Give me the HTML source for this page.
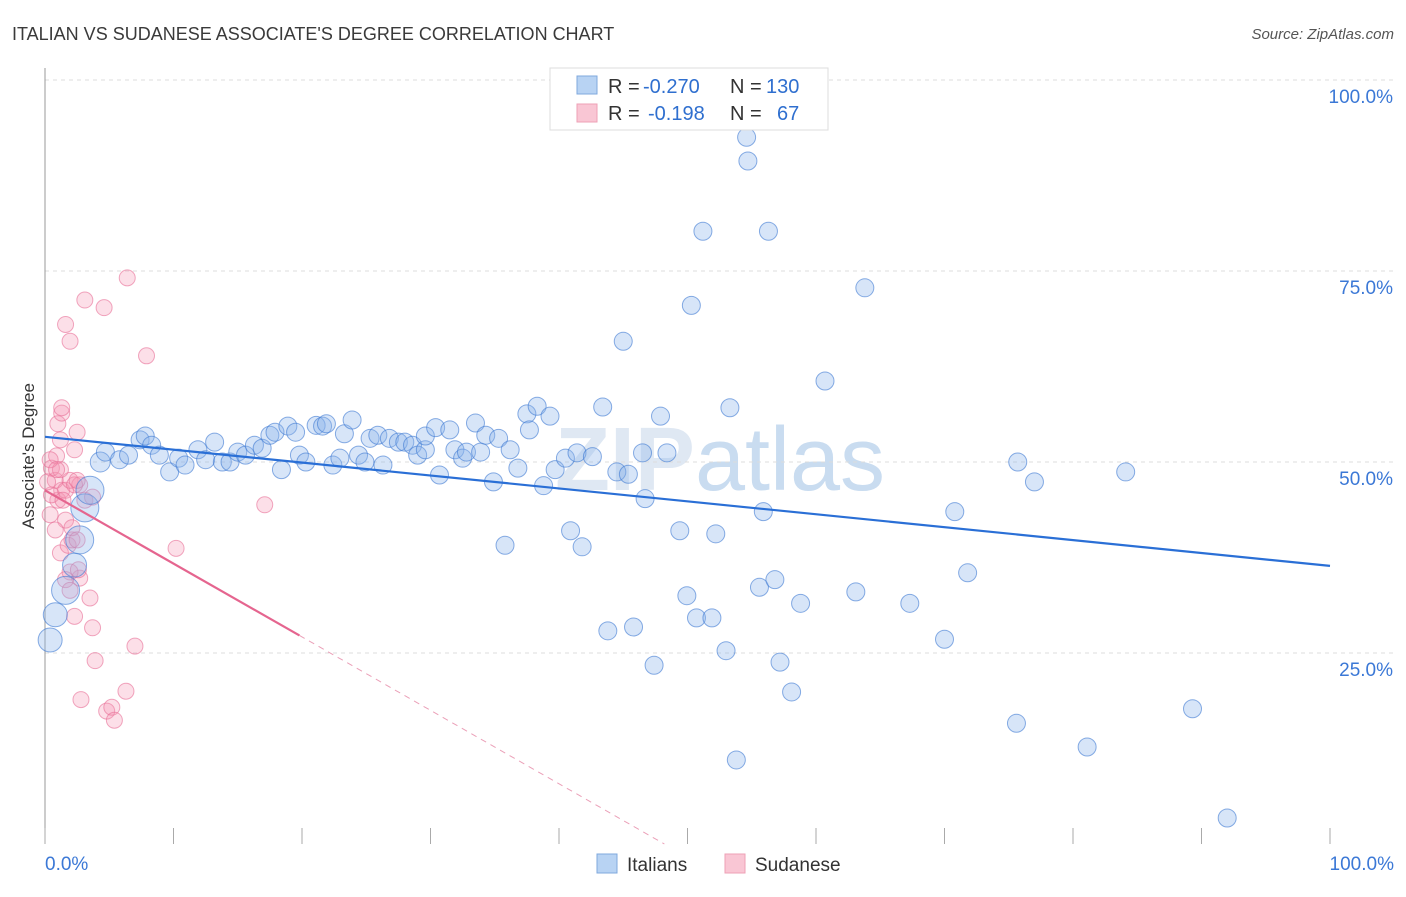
<!DOCTYPE html>
<html><head><meta charset="utf-8"><style>
body{margin:0;background:#fff;font-family:"Liberation Sans",sans-serif;}
svg text{font-family:"Liberation Sans",sans-serif;}
</style></head><body>
<svg id="c" width="1406" height="892" viewBox="0 0 1406 892" xmlns="http://www.w3.org/2000/svg">
<text x="12" y="40" font-size="18" fill="#3a3a3a">ITALIAN VS SUDANESE ASSOCIATE'S DEGREE CORRELATION CHART</text>
<text x="1394" y="39" font-size="15" fill="#555" text-anchor="end" font-style="italic">Source: ZipAtlas.com</text>
<text x="720" y="490" font-size="90" fill="#dfe8f3" text-anchor="middle" font-weight="bold">ZIP<tspan font-weight="normal" fill="#c9dcf0">atlas</tspan></text>
<g id="grid"></g>
<g id="axes"></g>
<g id="pts"></g>
<g id="trend"></g>
<text transform="translate(34,456) rotate(-90)" font-size="17" fill="#333" text-anchor="middle">Associate's Degree</text>
<g>
<rect x="550" y="68" width="278" height="62" fill="#fff" stroke="#ddd"/>
<rect x="577" y="76" width="20" height="18" fill="#b8d3f3" stroke="#7fa8de"/>
<rect x="577" y="104" width="20" height="18" fill="#f9c6d4" stroke="#eea0b6"/>
<text x="608" y="93" font-size="20" fill="#333">R =</text>
<text x="643" y="93" font-size="20" fill="#2f6fcf">-0.270</text>
<text x="730" y="93" font-size="20" fill="#333">N =</text>
<text x="766" y="93" font-size="20" fill="#2f6fcf">130</text>
<text x="608" y="120" font-size="20" fill="#333">R =</text>
<text x="648" y="120" font-size="20" fill="#2f6fcf">-0.198</text>
<text x="730" y="120" font-size="20" fill="#333">N =</text>
<text x="777" y="120" font-size="20" fill="#2f6fcf">67</text>
</g>
<g>
<rect x="597" y="854" width="20" height="19" fill="#b8d3f3" stroke="#7fa8de"/>
<text x="627" y="871" font-size="19" fill="#333">Italians</text>
<rect x="725" y="854" width="20" height="19" fill="#f9c6d4" stroke="#eea0b6"/>
<text x="755" y="871" font-size="19" fill="#333">Sudanese</text>
</g>
</svg>
<script>
const yTicks=[25,50,75,100];
const yTickLabels=["25.0%","50.0%","75.0%","100.0%"];
const xTicks=[0,10,20,30,40,50,60,70,80,90,100];
const blueX=[0.4,0.8,1.6,2.3,2.7,3.1,3.5,4.3,4.7,5.8,6.5,7.4,7.8,8.3,8.9,9.7,10.4,10.9,11.9,12.5,13.2,13.8,14.4,15,15.6,16.3,16.9,17.5,17.9,18.4,18.9,19.5,19.8,20.3,21.1,21.6,21.9,22.4,22.95,23.3,23.9,24.4,24.9,25.3,25.9,26.3,26.8,27.5,28,28.6,29,29.6,29.6,30.4,30.7,31.5,31.9,32.5,32.8,33.5,33.9,34.3,34.9,35.3,35.8,36.2,36.8,37.5,37.7,38.3,38.8,39.3,39.7,40.5,40.9,41.4,41.8,42.6,43.4,43.8,44.5,45,45.4,45.8,46.5,46.7,47.4,47.9,48.4,49.4,49.95,50.3,50.7,51.2,51.9,52.2,53,53.3,53.8,54.6,54.7,55.6,55.9,56.3,56.8,57.2,58.1,58.8,60.7,63.1,63.8,67.3,70,70.8,71.8,75.6,75.7,77,81.1,84.1,89.3,92];
const blueY=[26.7,30,33.2,36.5,39.8,44,46.3,50,51.3,50.3,50.9,52.9,53.4,52.2,50.9,48.7,50.5,49.6,51.6,50.3,52.6,50,50,51.3,50.9,52.2,51.8,53.5,53.9,49,54.7,53.9,50.9,50,54.8,54.7,55,49.6,50.5,53.7,55.5,50.9,50,53.1,53.5,49.6,53.1,52.6,52.6,52.2,50.9,51.6,53.4,54.5,48.3,54.2,51.6,50.5,51.3,55.1,51.3,53.5,47.4,53.1,39.1,51.6,49.2,56.3,54.2,57.3,46.9,56,49,50.5,41,51.2,38.9,50.7,57.2,27.9,48.7,65.8,48.4,28.4,51.2,45.2,23.4,56,51.2,41,32.5,70.5,29.6,80.2,29.6,40.6,25.3,57.1,11,92.5,89.4,33.6,43.5,80.2,34.6,23.8,19.9,31.5,60.6,33,72.8,31.5,26.8,43.5,35.5,15.8,50,47.4,12.7,48.7,17.7,3.4];
const blueBig=[12,12,14,12,14,14,14,10];
const pinkX=[6.4,3.1,4.6,1.6,1.95,7.9,17.1,10.2,7,3.9,6.3,2.8,4.8,5.2,5.4,3.5,3.7,2.3,2.7,1.95,2.6,1.2,1.8,2.1,1.6,1,1.3,0.8,0.5,0.9,1.2,1,1.3,1.3,2.3,2.5,0.5,0.4,0.8,2.1,2.5,1.6,0.2,1.95,2.7,3.1,1.2,0.4,2.3,3.7,1.6,1.95,2.5,1.4,0.9];
const pinkY=[74.1,71.2,70.2,68,65.8,63.9,44.4,38.7,25.9,24,20,18.9,17.4,17.9,16.2,32.2,28.3,29.8,34.8,35.6,35.9,38.1,39.1,39.8,42.4,45,46.3,47.6,49.2,50.8,52.9,55,56.4,57.1,51.6,53.9,45.7,43.1,41.1,41.4,39.8,46.3,47.4,47.6,47,45,49,50.3,47,45.4,34.6,33.2,47.6,45,49];
const blueTrend=[[0,53.3],[100,36.4]];
const pinkTrendSolid=[[0,46.3],[19.8,27.3]];
const pinkTrendDash=[[19.8,27.3],[48.2,0]];
const X=v=>45+v*12.85, Y=v=>844-v*7.64;
const NS="http://www.w3.org/2000/svg";
function mk(tag,attrs,parent){const e=document.createElementNS(NS,tag);for(const k in attrs)e.setAttribute(k,attrs[k]);document.getElementById(parent).appendChild(e);return e;}
yTicks.forEach((t,i)=>{
  const l=mk('line',{x1:45,x2:1394,y1:Y(t),y2:Y(t),stroke:'#dcdcdc','stroke-dasharray':'4,4'},'grid');
  
  
  const tx=mk('text',{x:1393,y:Y(t)+23,'font-size':19,fill:'#3b78d6','text-anchor':'end'},'axes');
  tx.textContent=yTickLabels[i];
  
  
});
const ax=mk('line',{x1:45,x2:45,y1:68,y2:844,stroke:'#999'},'axes');


xTicks.forEach(t=>{
  const l=mk('line',{x1:X(t),x2:X(t),y1:828,y2:844,stroke:'#aaa'},'axes');
  
  
});
const x0=mk('text',{x:45,y:870,'font-size':19,fill:'#3b78d6'},'axes');x0.textContent='0.0%';


const x1=mk('text',{x:1394,y:870,'font-size':19,fill:'#3b78d6','text-anchor':'end'},'axes');x1.textContent='100.0%';


pinkX.forEach((v,i)=>{
  const c=mk('circle',{cx:X(v),cy:Y(pinkY[i]),r:8,fill:'rgba(244,150,178,0.3)',stroke:'rgba(232,110,150,0.6)','stroke-width':1},'pts');
  
  
});
blueX.forEach((v,i)=>{
  const r=i<blueBig.length?blueBig[i]:9;
  const c=mk('circle',{cx:X(v),cy:Y(blueY[i]),r:r,fill:'rgba(140,180,235,0.35)',stroke:'rgba(60,120,210,0.6)','stroke-width':1},'pts');
  
  
});
function ln(p,st,w,dash,name){const l=mk('line',{x1:X(p[0][0]),y1:Y(p[0][1]),x2:X(p[1][0]),y2:Y(p[1][1]),stroke:st,'stroke-width':w},'trend');if(dash)l.setAttribute('stroke-dasharray',dash);
  
  }
ln(blueTrend,'#2a6fd6',2.2,null,'italians-trendline');
ln(pinkTrendSolid,'#e5658f',2.2,null,'sudanese-trendline');
ln(pinkTrendDash,'#eba0b8',1,'6,5','sudanese-trendline-extension');
</script>
</body></html>
